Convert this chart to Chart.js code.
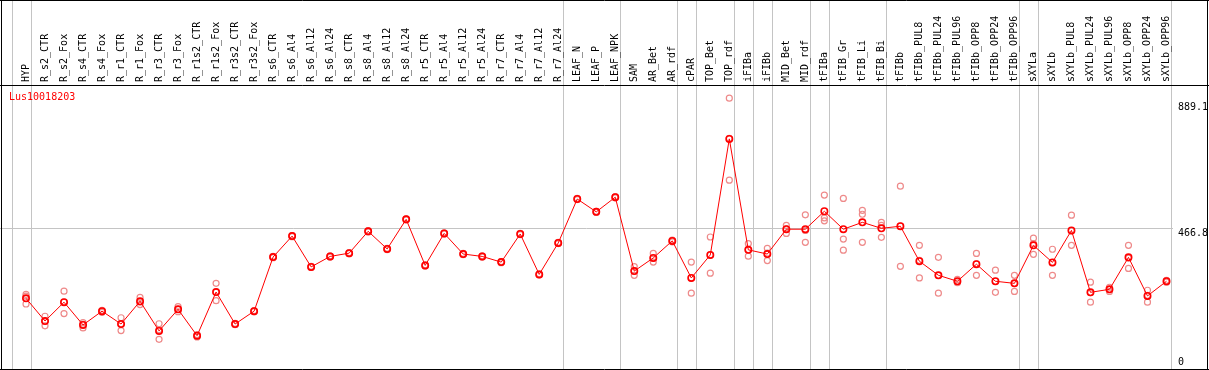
<!DOCTYPE html>
<html>
<head>
<meta charset="utf-8">
<script src="https://cdn.jsdelivr.net/npm/chart.js@4/dist/chart.umd.min.js"></script>
<style>
  html, body { margin: 0; padding: 0; background: #fff; }
  canvas { display: block; }
</style>
</head>
<body>
<canvas id="chart" width="1209" height="370"></canvas>
<script>
const geneName = 'Lus10018203';

const samples = [
  'HYP', 'R_s2_CTR', 'R_s2_Fox', 'R_s4_CTR', 'R_s4_Fox', 'R_r1_CTR', 'R_r1_Fox',
  'R_r3_CTR', 'R_r3_Fox', 'R_r1s2_CTR', 'R_r1s2_Fox', 'R_r3s2_CTR', 'R_r3s2_Fox',
  'R_s6_CTR', 'R_s6_Al4', 'R_s6_Al12', 'R_s6_Al24', 'R_s8_CTR', 'R_s8_Al4',
  'R_s8_Al12', 'R_s8_Al24', 'R_r5_CTR', 'R_r5_Al4', 'R_r5_Al12', 'R_r5_Al24',
  'R_r7_CTR', 'R_r7_Al4', 'R_r7_Al12', 'R_r7_Al24', 'LEAF_N', 'LEAF_P', 'LEAF_NPK',
  'SAM', 'AR_Bet', 'AR_rdf', 'cPAR', 'TOP_Bet', 'TOP_rdf', 'iFIBa', 'iFIBb',
  'MID_Bet', 'MID_rdf', 'tFIBa', 'tFIB_Gr', 'tFIB_Li', 'tFIB_Bi', 'tFIBb',
  'tFIBb_PUL8', 'tFIBb_PUL24', 'tFIBb_PUL96', 'tFIBb_OPP8', 'tFIBb_OPP24', 'tFIBb_OPP96',
  'sXYLa', 'sXYLb', 'sXYLb_PUL8', 'sXYLb_PUL24', 'sXYLb_PUL96', 'sXYLb_OPP8',
  'sXYLb_OPP24', 'sXYLb_OPP96'
];

// mean expression per sample
const means = [
  233, 157, 220, 144, 190, 147, 223, 124, 196, 108, 254, 147, 190,
  371, 441, 338, 373, 384, 457, 398, 497, 343, 450, 381, 373, 354, 448, 313, 418,
  565, 522, 571,
  324, 368, 425, 301, 378, 766, 395, 381, 464, 464, 524, 464, 487, 467, 474,
  357, 310, 290, 347, 290, 283,
  410, 353, 460, 253, 263, 370, 241, 290
];

// individual replicates
const rep1 = [
  246, 173, 257, 152, 193, 168, 236, 148, 205, 112, 283, 149, 192,
  373, 443, 340, 375, 386, 459, 400, 499, 345, 452, 383, 375, 356, 450, 315, 420,
  567, 524, 573,
  339, 383, 428, 354, 438, 902, 416, 400, 477, 512, 578, 567, 527, 487, 608,
  410, 370, 296, 383, 327, 310,
  434, 397, 511, 287, 270, 410, 260, 293
];
const rep2 = [
  240, 157, 220, 146, 191, 148, 221, 128, 196, 108, 254, 147, 190,
  371, 441, 338, 373, 384, 457, 398, 497, 343, 450, 381, 373, 354, 448, 313, 418,
  565, 522, 571,
  324, 367, 425, 301, 378, 768, 395, 384, 465, 460, 502, 431, 514, 477, 474,
  360, 310, 290, 348, 290, 283,
  416, 352, 459, 252, 263, 367, 243, 290
];
const rep3 = [
  214, 141, 182, 134, 186, 125, 212, 96, 188, 104, 225, 145, 188,
  369, 439, 336, 371, 382, 455, 396, 495, 341, 448, 379, 371, 352, 446, 311, 416,
  563, 520, 569,
  310, 354, 422, 250, 317, 628, 374, 359, 450, 420, 492, 394, 420, 437, 340,
  301, 250, 285, 310, 253, 256,
  380, 310, 410, 220, 256, 333, 220, 287
];

const yTicks = [0, 466.8, 889.1];

// sample index after which a grey separator is drawn
const separators = [-1, 0, 28, 31, 34, 35, 37, 38, 39, 41, 42, 45, 52, 53, 60];

const FONT = 'DejaVu Sans Mono';
const RED = '#ff0000';
const PINK = '#ee8a8a';
const GREY = '#c4c4c4';

const repStyle = {
  showLine: false,
  pointStyle: 'circle',
  pointRadius: 3,
  pointBorderWidth: 1.2,
  pointBorderColor: PINK,
  pointBackgroundColor: 'rgba(0,0,0,0)',
  borderColor: PINK,
  order: 2
};

const framePlugin = {
  id: 'frame',
  beforeDraw(chart) {
    const ctx = chart.ctx;
    const x = chart.scales.x, y = chart.scales.y;
    const step = x.getPixelForValue(1) - x.getPixelForValue(0);
    ctx.save();
    ctx.fillStyle = '#fff';
    ctx.fillRect(0, 0, chart.width, chart.height);
    ctx.strokeStyle = GREY;
    ctx.lineWidth = 1;
    ctx.beginPath();
    separators.forEach(i => {
      const px = Math.round(x.getPixelForValue(0) + i * step + step * 0.24) + 0.5;
      ctx.moveTo(px, 0);
      ctx.lineTo(px, chart.height);
    });
    const gy = Math.round(y.getPixelForValue(yTicks[1])) + 0.5;
    ctx.moveTo(0, gy);
    ctx.lineTo(chart.chartArea.right - 3, gy);
    ctx.stroke();
    ctx.restore();
  },
  afterDraw(chart) {
    const ctx = chart.ctx;
    const a = chart.chartArea;
    ctx.save();
    ctx.strokeStyle = '#000';
    ctx.lineWidth = 1;
    ctx.beginPath();
    ctx.moveTo(0, 0.5); ctx.lineTo(chart.width, 0.5);
    ctx.moveTo(0, a.top - 0.5); ctx.lineTo(chart.width, a.top - 0.5);
    ctx.moveTo(0, 369.5); ctx.lineTo(chart.width, 369.5);
    ctx.moveTo(1.5, 0); ctx.lineTo(1.5, chart.height);
    ctx.moveTo(1207.5, 0); ctx.lineTo(1207.5, chart.height);
    ctx.stroke();
    ctx.fillStyle = RED;
    ctx.font = '10px "' + FONT + '"';
    ctx.textBaseline = 'middle';
    ctx.textAlign = 'left';
    ctx.fillText(geneName, 9, a.top + 11);
    ctx.restore();
  }
};

new Chart(document.getElementById('chart').getContext('2d'), {
  type: 'line',
  data: {
    labels: samples,
    datasets: [
      {
        label: 'mean',
        data: means,
        borderColor: RED,
        borderWidth: 1,
        pointStyle: 'circle',
        pointRadius: 3.2,
        pointBorderWidth: 1.6,
        pointBorderColor: RED,
        pointBackgroundColor: 'rgba(0,0,0,0)',
        tension: 0,
        order: 1
      },
      Object.assign({ label: 'rep1', data: rep1 }, repStyle),
      Object.assign({ label: 'rep2', data: rep2 }, repStyle),
      Object.assign({ label: 'rep3', data: rep3 }, repStyle)
    ]
  },
  options: {
    responsive: false,
    animation: false,
    devicePixelRatio: 1,
    layout: { autoPadding: false, padding: { left: 16.5, right: 0, top: 0, bottom: 2 } },
    plugins: { legend: { display: false }, tooltip: { enabled: false } },
    scales: {
      x: {
        type: 'category',
        position: 'top',
        offset: true,
        grid: { display: false, drawTicks: false },
        border: { display: false },
        ticks: {
          autoSkip: false,
          minRotation: 90,
          maxRotation: 90,
          padding: 4,
          labelOffset: 12,
          color: '#000',
          font: { family: FONT, size: 10 }
        },
        afterFit(scale) {
          scale.height = 86;
          scale.paddingLeft = 0;
          scale.paddingRight = 0;
        }
      },
      y: {
        position: 'right',
        min: 0,
        max: 942.8,
        grid: { display: false, drawTicks: false },
        border: { display: false },
        afterBuildTicks(scale) { scale.ticks = yTicks.map(v => ({ value: v })); },
        ticks: {
          align: 'start',
          padding: 2,
          color: '#000',
          font: { family: FONT, size: 10, lineHeight: 1.05 },
          callback: v => (v === 0 ? ['0', '', ''] : String(v))
        },
        afterFit(scale) {
          scale.width = 33;
          scale.paddingTop = 0;
          scale.paddingBottom = 0;
        }
      }
    }
  },
  plugins: [framePlugin]
});
</script>
</body>
</html>
